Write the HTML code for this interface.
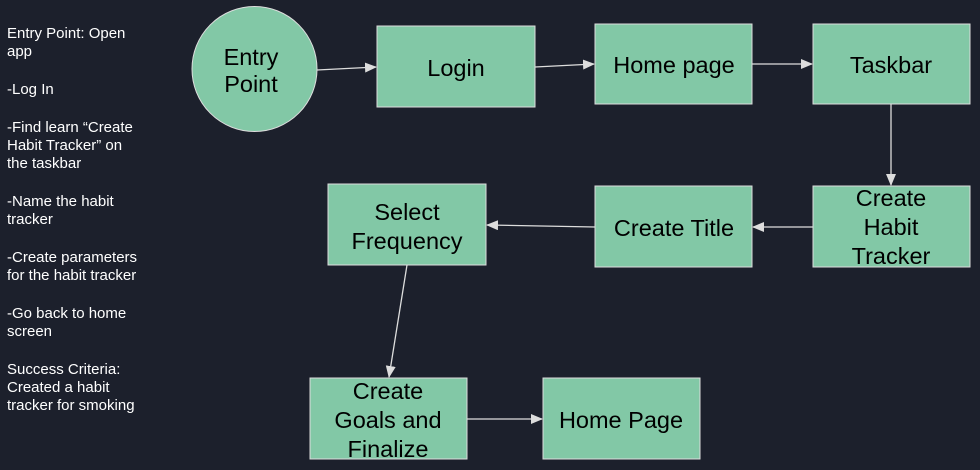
<!DOCTYPE html>
<html><head><style>
body{margin:0;width:980px;height:470px;background:#1c202c;overflow:hidden;position:relative;font-family:"Liberation Sans",sans-serif}
.t{position:absolute;left:7px;color:#fff;font-size:15px;line-height:18px;white-space:nowrap}
</style></head><body>
<div class="t" style="top:25px">Entry Point: Open<br>app</div>
<div class="t" style="top:81px">-Log In</div>
<div class="t" style="top:119px">-Find learn “Create<br>Habit Tracker” on<br>the taskbar</div>
<div class="t" style="top:193px">-Name the habit<br>tracker</div>
<div class="t" style="top:249px">-Create parameters<br>for the habit tracker</div>
<div class="t" style="top:305px">-Go back to home<br>screen</div>
<div class="t" style="top:361px">Success Criteria:<br>Created a habit<br>tracker for smoking</div>
<svg width="980" height="470" style="position:absolute;left:0;top:0" font-family="Liberation Sans, sans-serif" font-size="23.5" text-anchor="middle">
<defs><marker id="a" markerWidth="12" markerHeight="10" refX="11" refY="5" orient="auto" markerUnits="userSpaceOnUse"><path d="M0,0L12,5L0,10z" fill="#ddd"/></marker></defs>
<g fill="#82c8a6" stroke="#ddd" stroke-width="1">
<circle cx="254.5" cy="69" r="62.5"/>
<rect x="377" y="26" width="158" height="81"/>
<rect x="595" y="24" width="157" height="80"/>
<rect x="813" y="24" width="157" height="80"/>
<rect x="813" y="186" width="157" height="81"/>
<rect x="595" y="186" width="157" height="81"/>
<rect x="328" y="184" width="158" height="81"/>
<rect x="310" y="378" width="157" height="81"/>
<rect x="543" y="378" width="157" height="81"/>
</g>
<g stroke="#ddd" stroke-width="1.3" marker-end="url(#a)">
<line x1="317" y1="70" x2="376" y2="67"/>
<line x1="535" y1="67" x2="594" y2="64"/>
<line x1="752" y1="64" x2="812" y2="64"/>
<line x1="891" y1="104" x2="891" y2="185"/>
<line x1="813" y1="227" x2="753" y2="227"/>
<line x1="595" y1="227" x2="487" y2="225"/>
<line x1="407" y1="265" x2="389" y2="377"/>
<line x1="467" y1="419" x2="542" y2="419"/>
</g>
<g fill="#000">
<text x="251" y="65">Entry</text><text x="251" y="92">Point</text>
<text x="456" y="76">Login</text>
<text x="674" y="73">Home page</text>
<text x="891" y="73">Taskbar</text>
<text x="891" y="206">Create</text><text x="891" y="235">Habit</text><text x="891" y="264">Tracker</text>
<text x="674" y="236">Create Title</text>
<text x="407" y="220">Select</text><text x="407" y="249">Frequency</text>
<text x="388" y="399">Create</text><text x="388" y="428">Goals and</text><text x="388" y="457">Finalize</text>
<text x="621" y="428">Home Page</text>
</g>
</svg>
</body></html>
